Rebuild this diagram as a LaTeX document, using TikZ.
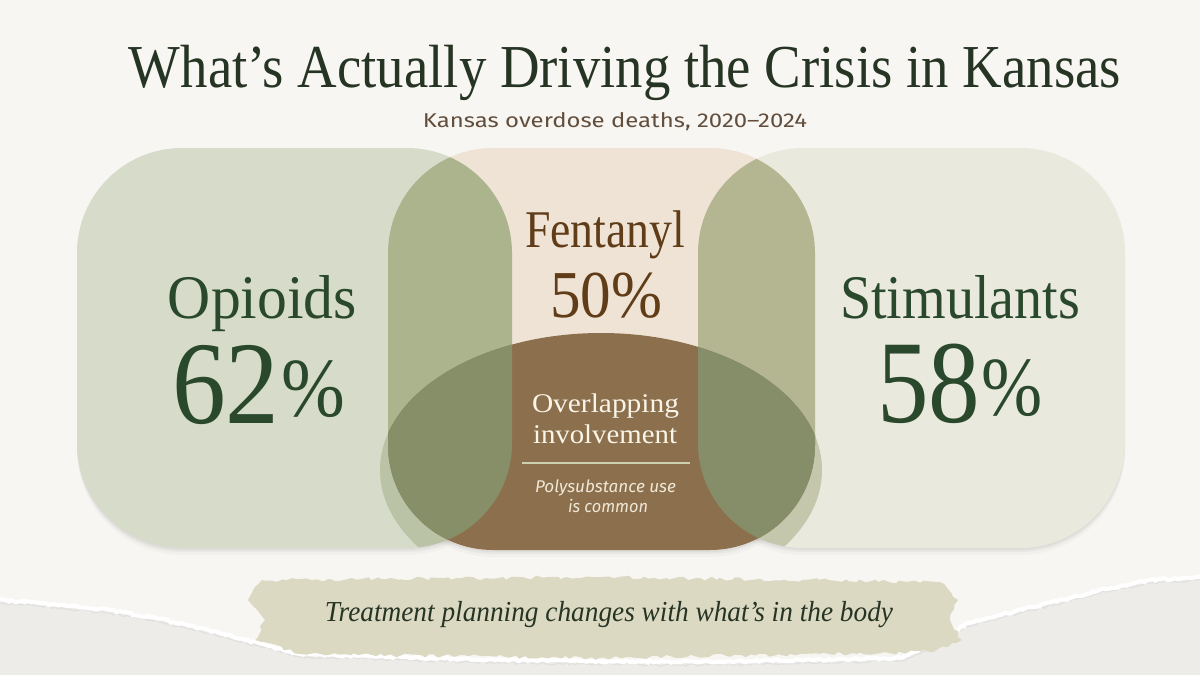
\documentclass[tikz,border=0pt]{standalone}
\usepackage{fontspec}
\usepackage{graphicx}
\setmainfont{Liberation Serif}
\newfontfamily\subsans{Fira Sans}
\usetikzlibrary{decorations.pathmorphing}
\definecolor{bg}{HTML}{F8F6F2}
\definecolor{paperlow}{HTML}{EEECE8}
\definecolor{stripc}{HTML}{DCD9C3}
\definecolor{titlegreen}{HTML}{263424}
\definecolor{numgreen}{HTML}{2A482C}
\definecolor{fentbrown}{HTML}{603C18}
\definecolor{subbrown}{HTML}{624E3C}
\definecolor{creamtext}{HTML}{FAF5E8}
\definecolor{polytext}{HTML}{F0E8D7}
\definecolor{rulec}{HTML}{CDD0AF}
\definecolor{cL}{HTML}{D6DCC9}
\definecolor{cM}{HTML}{EEE3D4}
\definecolor{cR}{HTML}{E9E9DE}
\definecolor{cLM}{HTML}{ACB48E}
\definecolor{cMR}{HTML}{B4B692}
\definecolor{cE}{HTML}{8C704E}
\definecolor{cELM}{HTML}{878F69}
\definecolor{cERM}{HTML}{868E69}
\definecolor{cEL}{HTML}{BAC3A5}
\definecolor{cER}{HTML}{C4C7AC}
\newcommand{\fitw}[2]{\resizebox{#1pt}{\height}{#2}}
\newcommand{\smallpct}{\raisebox{7pt}{\fontsize{84}{86}\selectfont\%}}
\newcommand{\boxL}{(77,148) rectangle (512,548)}
\newcommand{\boxM}{(388,148) rectangle (815,550)}
\newcommand{\boxR}{(698,148) rectangle (1125,548)}
\begin{document}
\begin{tikzpicture}[x=1pt,y=-1pt,
  rc/.style={rounded corners=105pt},
  lbl/.style={anchor=base,inner sep=0pt,outer sep=0pt},
  torn/.style={decorate,decoration={random steps,segment length=3pt,amplitude=1.2pt}}]
\useasboundingbox (0,0) rectangle (1200,675);
\fill[bg] (0,0) rectangle (1200,675);
% lower torn paper
\fill[paperlow] (0,600) -- (40,603) -- (67,606) -- (110,610) -- (150,617) -- (200,628) -- (233,637) -- (270,646) -- (300,654) -- (500,660) -- (700,662) -- (900,658) -- (945,640) -- (965,624) -- (1000,615) -- (1033,607) -- (1070,598) -- (1100,590) -- (1150,580) -- (1200,577) -- (1200,675) -- (0,675) -- cycle;
\draw[black!12,line width=1.2pt,torn] (0,603) -- (40,606) -- (67,609) -- (110,613) -- (150,620) -- (200,631) -- (233,640) -- (270,649) -- (300,657) -- (500,663) -- (700,665) -- (900,661) -- (945,643) -- (965,627) -- (1000,618) -- (1033,610) -- (1070,601) -- (1100,593) -- (1150,583) -- (1200,580);
\draw[white,line width=4pt,torn] (0,600) -- (40,603) -- (67,606) -- (110,610) -- (150,617) -- (200,628) -- (233,637) -- (270,646) -- (300,654) -- (500,660) -- (700,662) -- (900,658) -- (945,640) -- (965,624) -- (1000,615) -- (1033,607) -- (1070,598) -- (1100,590) -- (1150,580) -- (1200,577);
% brush strip
\fill[stripc,decorate,decoration={random steps,segment length=5pt,amplitude=2pt}] (262,580) -- (600,577) -- (940,582) -- (958,600) -- (950,620) -- (962,640) -- (930,652) -- (600,658) -- (300,654) -- (255,640) -- (265,620) -- (248,600) -- cycle;
% shadows
\foreach \d/\o in {7/0.025,4/0.035,2/0.04}{
  \fill[black,opacity=\o,rc] (77,148+\d) rectangle (512,548+\d);
  \fill[black,opacity=\o,rc] (388,148+\d) rectangle (815,550+\d);
  \fill[black,opacity=\o,rc] (698,148+\d) rectangle (1125,548+\d);
}
% base boxes
\fill[cL,rc] \boxL;
\fill[cM,rc] \boxM;
\fill[cR,rc] \boxR;
\begin{scope}
  \clip[rc] \boxL;
  \fill[cLM,rc] \boxM;
\end{scope}
\begin{scope}
  \clip[rc] \boxR;
  \fill[cMR,rc] \boxM;
\end{scope}
% ellipse regions
\begin{scope}
  \clip[rc] \boxL \boxM \boxR;
  \clip (601,470) ellipse [x radius=221pt,y radius=137pt];
  \fill[cEL,rc] \boxL;
  \fill[cER,rc] \boxR;
  \fill[cE,rc] \boxM;
  \begin{scope}
    \clip[rc] \boxL;
    \fill[cELM,rc] \boxM;
  \end{scope}
  \begin{scope}
    \clip[rc] \boxR;
    \fill[cERM,rc] \boxM;
  \end{scope}
\end{scope}
% texts
\node[lbl,text=titlegreen] (title) at (625,87) {\fitw{992}{\fontsize{61}{63}\selectfont What’s Actually Driving the Crisis in Kansas}};
\node[lbl,text=subbrown] (subtitle) at (615,127) {\fitw{384}{\subsans\fontsize{20}{24}\selectfont Kansas overdose deaths, 2020–2024}};
\node[lbl,text=numgreen] (opioids) at (262.5,318) {\fitw{189}{\fontsize{62}{64}\selectfont Opioids}};
\node[lbl,text=numgreen] (opioidspct) at (258.5,423) {\fitw{173}{\fontsize{118}{120}\selectfont 62\kern2pt\smallpct}};
\node[lbl,text=fentbrown] (fentanyl) at (605,247) {\fitw{160}{\fontsize{53}{55}\selectfont Fentanyl}};
\node[lbl,text=fentbrown] (fentanylpct) at (606,317) {\fitw{112}{\fontsize{67}{69}\selectfont 50\%}};
\node[lbl,text=creamtext] (overlap1) at (605.5,412) {\fitw{147}{\fontsize{27}{29}\selectfont Overlapping}};
\node[lbl,text=creamtext] (overlap2) at (605,443) {\fitw{144}{\fontsize{27}{29}\selectfont involvement}};
\coordinate (ruleL) at (522,463);
\coordinate (ruleR) at (690,463);
\draw[rulec,line width=1.2pt] (ruleL) -- (ruleR);
\node[lbl,text=polytext] (poly1) at (605.5,492) {\fitw{141}{\subsans\itshape\fontsize{17}{19}\selectfont Polysubstance use}};
\node[lbl,text=polytext] (poly2) at (608,512) {\fitw{80}{\subsans\itshape\fontsize{17}{19}\selectfont is common}};
\node[lbl,text=numgreen] (stim) at (960,318) {\fitw{240}{\fontsize{62}{64}\selectfont Stimulants}};
\node[lbl,text=numgreen] (stimpct) at (960,422) {\fitw{166}{\fontsize{118}{120}\selectfont 58\kern2pt\smallpct}};
\node[lbl,text=titlegreen] (bottom) at (609,621) {\fitw{568}{\itshape\fontsize{29}{31}\selectfont Treatment planning changes with what’s in the body}};
\end{tikzpicture}
\end{document}
